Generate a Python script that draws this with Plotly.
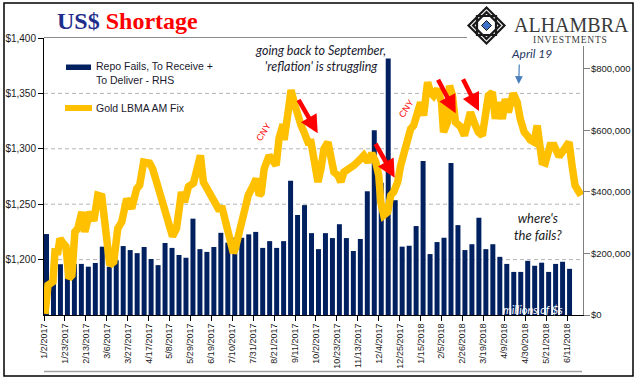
import plotly.graph_objects as go
import pandas as pd

# ---------------- data ----------------
week_start = "2017-01-02"
repo_fails = [
    263000, 110000, 165000, 160000, 166000, 166000, 157000, 169000, 222000, 157000,
    178000, 224000, 211000, 201000, 221000, 182000, 162000, 234000, 218000, 195000,
    186000, 313000, 214000, 205000, 221000, 267000, 235000, 251000, 251000, 262000,
    270000, 218000, 240000, 218000, 240000, 436000, 325000, 357000, 266000, 214000,
    266000, 250000, 295000, 250000, 208000, 247000, 402000, 600000, 430000, 833000,
    373000, 222000, 225000, 289000, 500000, 198000, 237000, 251000, 494000, 292000,
    211000, 230000, 316000, 214000, 230000, 189000, 166000, 140000, 140000, 176000,
    160000, 170000, 140000, 166000, 173000, 150000,
]

gold_dates = [
    "2017-01-03", "2017-01-06", "2017-01-11", "2017-01-13", "2017-01-16", "2017-01-18",
    "2017-01-21", "2017-01-24", "2017-01-27", "2017-01-30", "2017-02-02", "2017-02-05",
    "2017-02-09", "2017-02-12", "2017-02-17", "2017-02-21", "2017-02-25", "2017-03-01",
    "2017-03-04", "2017-03-09", "2017-03-13", "2017-03-17", "2017-03-21", "2017-03-26",
    "2017-03-31", "2017-04-05", "2017-04-08", "2017-04-12", "2017-04-18", "2017-04-21",
    "2017-04-25", "2017-05-01", "2017-05-06", "2017-05-11", "2017-05-15", "2017-05-20",
    "2017-05-23", "2017-05-27", "2017-06-01", "2017-06-06", "2017-06-08", "2017-06-11",
    "2017-06-17", "2017-06-22", "2017-06-26", "2017-06-30", "2017-07-04", "2017-07-07",
    "2017-07-11", "2017-07-13", "2017-07-16", "2017-07-19", "2017-07-22", "2017-07-26",
    "2017-07-31", "2017-08-03", "2017-08-06", "2017-08-08", "2017-08-11", "2017-08-16",
    "2017-08-23", "2017-08-26", "2017-08-30", "2017-08-31", "2017-09-04", "2017-09-07",
    "2017-09-10", "2017-09-14", "2017-09-17", "2017-09-20", "2017-09-24", "2017-09-27",
    "2017-09-30", "2017-10-04", "2017-10-07", "2017-10-10", "2017-10-14", "2017-10-17",
    "2017-10-20", "2017-10-24", "2017-10-27", "2017-10-30", "2017-11-06", "2017-11-09",
    "2017-11-16", "2017-11-19", "2017-11-23", "2017-11-27", "2017-12-01", "2017-12-04",
    "2017-12-06", "2017-12-09", "2017-12-13", "2017-12-16", "2017-12-19", "2017-12-23",
    "2017-12-26", "2017-12-29", "2018-01-02", "2018-01-05", "2018-01-08", "2018-01-12",
    "2018-01-15", "2018-01-18", "2018-01-22", "2018-01-25", "2018-01-28", "2018-02-01",
    "2018-02-05", "2018-02-07", "2018-02-11", "2018-02-13", "2018-02-16", "2018-02-19",
    "2018-02-24", "2018-02-28", "2018-03-03", "2018-03-06", "2018-03-11", "2018-03-14",
    "2018-03-18", "2018-03-21", "2018-03-24", "2018-03-28", "2018-03-31", "2018-04-03",
    "2018-04-07", "2018-04-10", "2018-04-13", "2018-04-18", "2018-04-22", "2018-04-25",
    "2018-04-29", "2018-05-02", "2018-05-05", "2018-05-09", "2018-05-12", "2018-05-17",
    "2018-05-20", "2018-05-25", "2018-05-29", "2018-06-03", "2018-06-07", "2018-06-13",
    "2018-06-16", "2018-06-19", "2018-06-23", "2018-06-25",
]
gold_values = [
    1151, 1177, 1180, 1207, 1207, 1219,
    1215, 1212, 1183, 1186, 1225, 1228,
    1243, 1225, 1243, 1235, 1258, 1257,
    1234, 1195, 1198, 1228, 1234, 1255,
    1246, 1264, 1267, 1288, 1287, 1282,
    1270, 1252, 1234, 1221, 1228, 1261,
    1252, 1266, 1269, 1291, 1294, 1270,
    1261, 1255, 1246, 1246, 1231, 1216,
    1206, 1210, 1222, 1234, 1249, 1258,
    1267, 1273, 1258, 1260, 1282, 1294,
    1285, 1310, 1322, 1308, 1333, 1353,
    1342, 1327, 1321, 1315, 1306, 1306,
    1285, 1270, 1282, 1300, 1306, 1288,
    1279, 1276, 1270, 1279, 1282, 1285,
    1291, 1294, 1288, 1296, 1288, 1276,
    1252, 1240, 1243, 1258, 1261, 1270,
    1285, 1297, 1312, 1318, 1321, 1333,
    1342, 1330, 1360, 1351, 1348, 1354,
    1342, 1315, 1324, 1357, 1348, 1324,
    1320, 1312, 1327, 1333, 1321, 1315,
    1312, 1330, 1348, 1351, 1327, 1342,
    1327, 1345, 1333, 1350, 1342, 1327,
    1315, 1312, 1308, 1306, 1321, 1288,
    1287, 1303, 1303, 1293, 1298, 1306,
    1285, 1267, 1261, 1258,
]

tick_dates = [
    "2017-01-02", "2017-01-23", "2017-02-13", "2017-03-06", "2017-03-27", "2017-04-17",
    "2017-05-08", "2017-05-29", "2017-06-19", "2017-07-10", "2017-07-31", "2017-08-21",
    "2017-09-11", "2017-10-02", "2017-10-23", "2017-11-13", "2017-12-04", "2017-12-25",
    "2018-01-15", "2018-02-05", "2018-02-26", "2018-03-19", "2018-04-09", "2018-04-30",
    "2018-05-21", "2018-06-11",
]
tick_labels = [
    "1/2/2017", "1/23/2017", "2/13/2017", "3/6/2017", "3/27/2017", "4/17/2017",
    "5/8/2017", "5/29/2017", "6/19/2017", "7/10/2017", "7/31/2017", "8/21/2017",
    "9/11/2017", "10/2/2017", "10/23/2017", "11/13/2017", "12/4/2017", "12/25/2017",
    "1/15/2018", "2/5/2018", "2/26/2018", "3/19/2018", "4/9/2018", "4/30/2018",
    "5/21/2018", "6/11/2018",
]
gold_ticks = [1200, 1250, 1300, 1350, 1400]
gold_tick_labels = ["$1,200", "$1,250", "$1,300", "$1,350", "$1,400"]
gold_grid = [1200, 1250, 1300, 1350]
fails_ticks = [0, 200000, 400000, 600000, 800000]
fails_tick_labels = ["$0", "$200,000", "$400,000", "$600,000", "$800,000"]

# ---------------- layout helpers ----------------
W, H = 641, 381
ML, MR, MT, MB = 44, 58, 38, 66
PW = W - ML - MR
PH = H - MT - MB


def px(x):
    return (x - ML) / PW


def py(y):
    return (H - MB - y) / PH


NAVY = "#002060"
GOLD = "#FFC000"
TXT = "#1a1a2e"

weeks = pd.date_range(week_start, periods=len(repo_fails), freq="7D")

fig = go.Figure()
fig.add_trace(go.Bar(
    x=weeks, y=repo_fails, marker=dict(color=NAVY, line=dict(width=0)),
    xperiod=7 * 86400000, xperiodalignment="middle", yaxis="y",
    name="Repo Fails, To Receive + To Deliver - RHS",
))
fig.add_trace(go.Scatter(
    x=gold_dates, y=gold_values, mode="lines", yaxis="y2",
    line=dict(color=GOLD, width=7.5), name="Gold LBMA AM Fix",
))

shapes = []
for g in gold_grid:
    shapes.append(dict(type="line", xref="paper", yref="y2", x0=0, x1=1, y0=g, y1=g,
                       line=dict(color="#B4B4B4", width=1, dash="4px,3px"), layer="below"))
shapes.append(dict(type="line", xref="paper", yref="paper", x0=px(44), x1=px(467),
                   y0=py(37.5), y1=py(37.5), line=dict(color="#8c8c8c", width=1)))
shapes.append(dict(type="line", xref="paper", yref="paper", x0=px(44), x1=px(582),
                   y0=py(371.5), y1=py(371.5), line=dict(color="#a0a0a0", width=1.5)))
shapes.append(dict(type="rect", xref="paper", yref="paper", x0=px(4), x1=px(633),
                   y0=py(376), y1=py(3), line=dict(color="black", width=1.5)))
shapes.append(dict(type="rect", xref="paper", yref="paper", x0=px(578), x1=px(588),
                   y0=py(46), y1=py(36), line=dict(width=0), fillcolor="white", layer="above"))
shapes.append(dict(type="rect", xref="paper", yref="paper", x0=px(66), x1=px(91),
                   y0=py(70), y1=py(64.5), line=dict(width=0), fillcolor=NAVY))
shapes.append(dict(type="line", xref="paper", yref="paper", x0=px(65), x1=px(92),
                   y0=py(108), y1=py(108), line=dict(color=GOLD, width=6)))

cx, cy = 486.5, 25.5


def diamond(r):
    return (f"M {px(cx)},{py(cy - r)} L {px(cx + r)},{py(cy)} "
            f"L {px(cx)},{py(cy + r)} L {px(cx - r)},{py(cy)} Z")


def square(r):
    return (f"M {px(cx - r)},{py(cy - r)} L {px(cx + r)},{py(cy - r)} "
            f"L {px(cx + r)},{py(cy + r)} L {px(cx - r)},{py(cy + r)} Z")


shapes.append(dict(type="path", xref="paper", yref="paper", path=diamond(18),
                   line=dict(color="#1a1a1a", width=2.2), fillcolor="white"))
shapes.append(dict(type="path", xref="paper", yref="paper", path=square(9.5),
                   line=dict(color="#1a1a1a", width=2.2)))
shapes.append(dict(type="path", xref="paper", yref="paper", path=diamond(13.4),
                   line=dict(color="#1a1a1a", width=2.2)))
shapes.append(dict(type="path", xref="paper", yref="paper", path=diamond(5),
                   line=dict(color="#1a1a1a", width=1), fillcolor="#3D72C8"))

annotations = []


def txt(x, y, text, size=11, color=TXT, family="Liberation Sans", xanchor="center",
        yanchor="middle", angle=0, align="center"):
    annotations.append(dict(x=px(x), y=py(y), xref="paper", yref="paper", text=text,
                            showarrow=False, xanchor=xanchor, yanchor=yanchor,
                            textangle=angle, align=align,
                            font=dict(size=size, color=color, family=family)))


def arrow(tx, ty, hx, hy, color, width, size=1.0):
    annotations.append(dict(x=px(hx), y=py(hy), xref="paper", yref="paper", text="",
                            showarrow=True, ax=tx - hx, ay=ty - hy, arrowhead=2,
                            arrowsize=size, arrowwidth=width, arrowcolor=color,
                            standoff=0, startstandoff=0))


txt(55, 21, '<b><span style="color:#1F2E8C">US$</span> '
    '<span style="color:#FF0000">Shortage</span></b>',
    size=24, family="Liberation Serif", xanchor="left")
txt(512, 25, "ALHAMBRA", size=20, color="#3a3a3a", family="Liberation Serif", xanchor="left")
txt(570, 40, "\u200a".join("INVESTMENTS"), size=9.5, color="#3a3a3a",
    family="Liberation Serif")
txt(94, 73, "Repo Fails, To Receive +<br>To Deliver - RHS", size=10.5, xanchor="left",
    align="left")
txt(94, 108, "Gold LBMA AM Fix", size=10.5, xanchor="left")
txt(320, 58, "<i>going back to September,<br>'reflation' is struggling</i>", size=12.5,
    family="Lato")
txt(531, 53, "<i>April 19</i>", size=12, color="#1F3864", family="Lato")
txt(538, 226, "<i>where's<br>the fails?</i>", size=13, color="#1a1a1a", family="Lato")
txt(533, 309, "<i>millions of $s</i>", size=11, color="white", family="Lato")
txt(263.5, 132, "CNY", size=9, color="#FF0000", angle=-58)
txt(406, 109, "CNY", size=9, color="#FF0000", angle=-56)
arrow(519.3, 63, 518.7, 84, "#4A7EBB", 1.2, 1.3)
arrow(297.7, 98.3, 317.7, 133.3, "#FF0000", 4.5, 0.8)
arrow(374.7, 142.3, 394.7, 177.7, "#FF0000", 4.5, 0.8)
arrow(437.3, 78.3, 455.7, 113.3, "#FF0000", 4.5, 0.8)
arrow(462.3, 77.7, 479.0, 111.0, "#FF0000", 4.5, 0.8)

tickfont = dict(family="Liberation Sans", size=10, color="#1a1a1a")
fig.update_layout(
    width=W, height=H,
    margin=dict(l=ML, r=MR, t=MT, b=MB, pad=0, autoexpand=False),
    paper_bgcolor="white", plot_bgcolor="white",
    showlegend=False, bargap=2 / 7,
    xaxis=dict(type="date", range=["2017-01-02", "2018-06-27"], tickmode="array",
               tickvals=tick_dates, ticktext=tick_labels, tickangle=-90,
               ticks="outside", ticklen=5, tickcolor="black", showline=True,
               linecolor="black", linewidth=1, showgrid=False, zeroline=False,
               automargin=False, ticklabelstandoff=-1,
               tickfont=dict(family="Liberation Sans", size=9, color="#1a1a1a")),
    yaxis=dict(side="right", range=[0, 900000], tickmode="array", tickvals=fails_ticks,
               ticktext=fails_tick_labels, ticks="outside", ticklen=6, tickcolor="#808080",
               showline=True, linecolor="#808080", linewidth=1, showgrid=False,
               zeroline=False, automargin=False, ticklabelstandoff=-1,
               tickfont=dict(family="Liberation Sans", size=9.5, color="#1a1a1a")),
    yaxis2=dict(overlaying="y", side="left", range=[1150, 1400], tickmode="array",
                tickvals=gold_ticks, ticktext=gold_tick_labels, ticks="outside",
                ticklen=5, tickcolor="black", showline=True, linecolor="black",
                linewidth=1, showgrid=False, zeroline=False, automargin=False,
                tickfont=tickfont),
    shapes=shapes, annotations=annotations,
)

fig.write_html(
    "out.html",
    config={"displayModeBar": False},
    post_script="document.body.style.margin='0';document.body.style.overflow='hidden';",
)
